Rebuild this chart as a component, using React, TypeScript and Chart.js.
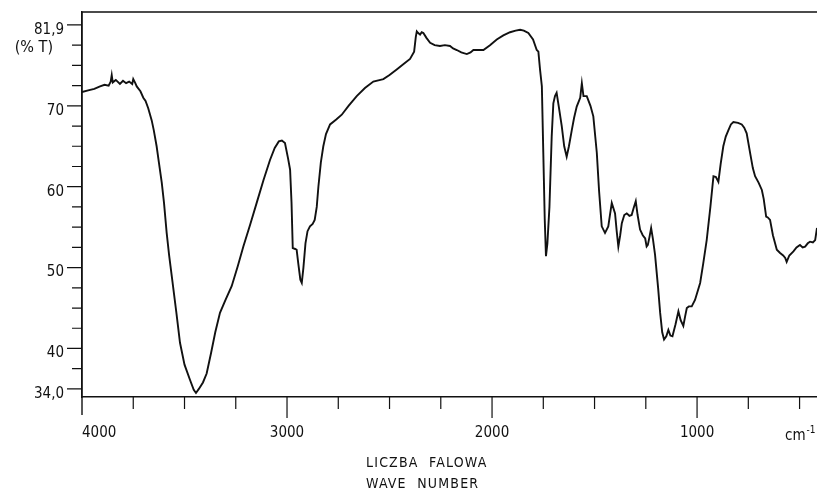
import { useEffect, useRef } from "react";
import { Chart, registerables } from "chart.js";

Chart.register(...registerables);

// Spectrum readings (wavenumber in cm^-1, transmittance in %T)
const wavenumbers = [
  4000, 3970, 3940, 3912, 3890, 3870, 3860, 3855, 3850, 3835, 3815, 3800, 3785, 3770, 3755, 3750, 3740, 3733,
  3715, 3701, 3690, 3677, 3660, 3650, 3636, 3625, 3611, 3600, 3587, 3575, 3562, 3540, 3522, 3500, 3473, 3455,
  3444, 3430, 3410, 3392, 3370, 3350, 3327, 3300, 3270, 3240, 3213, 3180, 3148, 3115, 3083, 3060, 3040, 3025,
  3010, 2995, 2985, 2978, 2972, 2960, 2953, 2945, 2935, 2928, 2920, 2910, 2900, 2888, 2875, 2865, 2855, 2847,
  2835, 2823, 2810, 2790, 2760, 2733, 2700, 2660, 2620, 2579, 2530, 2500, 2465, 2430, 2400, 2380, 2372, 2367,
  2360, 2351, 2343, 2335, 2320, 2302, 2280, 2254, 2230, 2205, 2190, 2172, 2150, 2123, 2105, 2091, 2065, 2042,
  2010, 1977, 1945, 1912, 1885, 1863, 1845, 1823, 1800, 1782, 1774, 1766, 1757, 1750, 1743, 1737, 1730, 1720,
  1709, 1701, 1693, 1685, 1675, 1660, 1648, 1636, 1625, 1611, 1600, 1587, 1570, 1562, 1554, 1538, 1520, 1506,
  1489, 1478, 1465, 1449, 1433, 1425, 1416, 1400, 1392, 1384, 1375, 1367, 1355, 1343, 1330, 1319, 1310, 1299,
  1290, 1278, 1265, 1253, 1246, 1240, 1232, 1224, 1215, 1205, 1190, 1180, 1170, 1161, 1150, 1140, 1130, 1120,
  1105, 1091, 1080, 1067, 1058, 1050, 1040, 1026, 1010, 985, 970, 953, 935, 920, 908, 896, 885, 872,
  860, 847, 835, 823, 800, 782, 770, 758, 740, 728, 717, 700, 684, 675, 663, 655, 644, 630,
  611, 595, 580, 570, 563, 550, 530, 515, 498, 485, 473, 460, 449, 435, 424, 415,
];
const transmittance = [
  71.7, 71.9, 72.1, 72.4, 72.6, 72.5, 73.0, 73.8, 72.9, 73.2, 72.7, 73.1, 72.8, 73.0, 72.7, 73.3, 72.8, 72.4,
  71.8, 71.0, 70.6, 69.7, 68.2, 67.0, 65.0, 63.0, 60.5, 58.0, 54.3, 51.5, 48.9, 44.5, 40.7, 38.0, 36.1, 34.9,
  34.5, 35.0, 35.8, 36.9, 39.5, 42.0, 44.4, 46.0, 47.7, 50.2, 52.6, 55.3, 58.0, 60.8, 63.3, 64.8, 65.6, 65.7,
  65.4, 63.5, 62.1, 58.0, 52.4, 52.3, 52.2, 50.5, 48.5, 48.1, 50.0, 53.0, 54.5, 55.1, 55.4, 55.9, 57.5, 60.0,
  63.0, 65.0, 66.5, 67.7, 68.3, 68.9, 70.0, 71.2, 72.2, 73.0, 73.3, 73.8, 74.5, 75.2, 75.8, 76.7, 78.5, 79.2,
  79.0, 78.8, 79.1, 79.0, 78.4, 77.8, 77.5, 77.4, 77.5, 77.4, 77.1, 76.9, 76.6, 76.4, 76.6, 76.9, 76.9, 76.9,
  77.5, 78.2, 78.7, 79.1, 79.3, 79.4, 79.3, 79.0, 78.2, 76.9, 76.7, 74.5, 72.4, 64.2, 56.0, 51.4, 53.0, 57.5,
  66.2, 70.3, 71.2, 71.6, 70.0, 67.5, 65.0, 63.7, 65.0, 67.0, 68.5, 69.9, 71.0, 72.8, 71.2, 71.2, 70.0, 68.7,
  64.2, 59.5, 55.1, 54.3, 55.1, 56.5, 58.0, 56.7, 54.5, 52.6, 54.0, 55.5, 56.5, 56.7, 56.4, 56.5, 57.3, 58.2,
  56.5, 54.7, 54.0, 53.6, 52.6, 52.8, 53.8, 54.9, 53.5, 51.6, 47.5, 44.4, 42.0, 41.1, 41.5, 42.3, 41.6, 41.5,
  43.0, 44.6, 43.5, 42.8, 44.0, 45.0, 45.2, 45.2, 46.0, 48.1, 50.5, 53.4, 57.5, 61.3, 61.2, 60.6, 62.8, 65.0,
  66.2, 67.0, 67.7, 68.0, 67.9, 67.7, 67.3, 66.6, 64.0, 62.3, 61.3, 60.5, 59.6, 58.5, 56.3, 56.2, 55.9, 54.0,
  52.2, 51.8, 51.5, 51.2, 50.7, 51.5, 52.0, 52.5, 52.8, 52.5, 52.6, 53.0, 53.2, 53.1, 53.4, 54.9,
];

const yMin = 34.0;
const yMax = 81.6;
const xMin = 415;
const xMax = 4000;

const yTickValues = [35, 37.5, 40, 42.5, 45, 47.5, 50, 52.5, 55, 57.5, 60, 62.5, 65, 67.5, 70, 72.5, 75, 77.5, 80];
const yLabelValues = [35, 40, 50, 60, 70, 80];
const yLabelTexts = ["34,0", "40", "50", "60", "70", "81,9"];

const xTickValues = [4000, 3750, 3500, 3250, 3000, 2750, 2500, 2250, 2000, 1750, 1500, 1250, 1000, 750, 500];
const xLabelValues = [4000, 3000, 2000, 1000];
const xLabelTexts = ["4000", "3000", "2000", "1000"];

const yUnitLabel = "(% T)";
const xUnitBase = "cm";
const xUnitSup = "-1";
const xTitleLines = ["LICZBA  FALOWA", "WAVE  NUMBER"];

const FONT = "'Liberation Sans Narrow', 'DejaVu Sans Condensed', 'Arial Narrow', sans-serif";
const INK = "#111111";

export default function App() {
  const ref = useRef<HTMLCanvasElement>(null);

  useEffect(() => {
    document.body.style.margin = "0";
    const canvas = ref.current;
    if (!canvas) return;

    const decor = {
      id: "decor",
      afterDraw(chart: any) {
        const { ctx, chartArea: a, scales } = chart;
        const xs = scales.x;
        const ys = scales.y;
        ctx.save();
        ctx.strokeStyle = INK;
        ctx.lineWidth = 1.4;
        ctx.beginPath();
        ctx.moveTo(a.left, a.top);
        ctx.lineTo(a.right, a.top);
        ctx.moveTo(a.left, a.top);
        ctx.lineTo(a.left, a.bottom + 18);
        ctx.stroke();

        ctx.lineWidth = 1.2;
        ctx.beginPath();
        yTickValues.forEach((v) => {
          const y = ys.getPixelForValue(v);
          const len = yLabelValues.includes(v) ? 15 : 10;
          ctx.moveTo(a.left - len, y);
          ctx.lineTo(a.left, y);
        });
        xTickValues.forEach((v) => {
          if (v === xMax) return;
          const x = xs.getPixelForValue(v);
          const len = v % 1000 === 0 ? 21 : 12;
          ctx.moveTo(x, a.bottom);
          ctx.lineTo(x, a.bottom + len);
        });
        ctx.stroke();

        ctx.fillStyle = INK;
        ctx.textBaseline = "middle";
        ctx.font = `15px ${FONT}`;
        xLabelValues.forEach((v, i) => {
          const x = xs.getPixelForValue(v);
          ctx.textAlign = v === xMax ? "left" : "center";
          ctx.fillText(xLabelTexts[i], x, a.bottom + 36);
        });

        // unit of the x axis
        ctx.textAlign = "left";
        ctx.font = `15px ${FONT}`;
        ctx.fillText(xUnitBase, 785, a.bottom + 39);
        const w = ctx.measureText(xUnitBase).width;
        ctx.font = `10px ${FONT}`;
        ctx.fillText(xUnitSup, 785 + w + 1, a.bottom + 33);

        // unit of the y axis
        ctx.font = `16px ${FONT}`;
        ctx.textAlign = "right";
        ctx.fillText(yUnitLabel, 53, 48);

        // axis title
        ctx.font = `14px ${FONT}`;
        ctx.textAlign = "left";
        (ctx as any).letterSpacing = "1.2px";
        ctx.fillText(xTitleLines[0], 366, 463);
        ctx.fillText(xTitleLines[1], 366, 484);
        ctx.restore();
      },
    };

    const chart = new Chart(canvas, {
      type: "line",
      data: {
        datasets: [
          {
            data: wavenumbers.map((w, i) => ({ x: w, y: transmittance[i] })),
            borderColor: INK,
            borderWidth: 1.9,
            pointRadius: 0,
            tension: 0,
            fill: false,
          },
        ],
      },
      options: {
        animation: false,
        responsive: false,
        devicePixelRatio: 1,
        layout: { padding: { top: 12, left: 0, right: 0, bottom: 0 } },
        plugins: { legend: { display: false }, tooltip: { enabled: false }, title: { display: false } },
        scales: {
          x: {
            type: "linear",
            reverse: true,
            min: xMin,
            max: xMax,
            grid: { display: false, drawTicks: false },
            border: { display: true, color: INK, width: 1.4 },
            ticks: { display: false },
            afterFit: (s: any) => {
              s.height = 95;
              s.paddingLeft = 0;
              s.paddingRight = 0;
            },
          },
          y: {
            type: "linear",
            min: yMin,
            max: yMax,
            grid: { display: false, drawTicks: false },
            border: { display: true, color: INK, width: 1.4 },
            afterBuildTicks: (s: any) => {
              s.ticks = yTickValues.map((v) => ({ value: v }));
            },
            ticks: {
              autoSkip: false,
              padding: 18,
              labelOffset: 5,
              color: INK,
              font: { family: FONT, size: 15 },
              callback: (v: any) => {
                const i = yLabelValues.indexOf(Number(v));
                return i >= 0 ? yLabelTexts[i] : "";
              },
            },
            afterFit: (s: any) => {
              s.width = 82;
              s.paddingTop = 0;
              s.paddingBottom = 0;
            },
          },
        },
      },
      plugins: [decor],
    });

    return () => chart.destroy();
  }, []);

  return (
    <div style={{ width: 817, height: 492, background: "#fff" }}>
      <canvas ref={ref} width={817} height={492} style={{ display: "block" }} />
    </div>
  );
}
